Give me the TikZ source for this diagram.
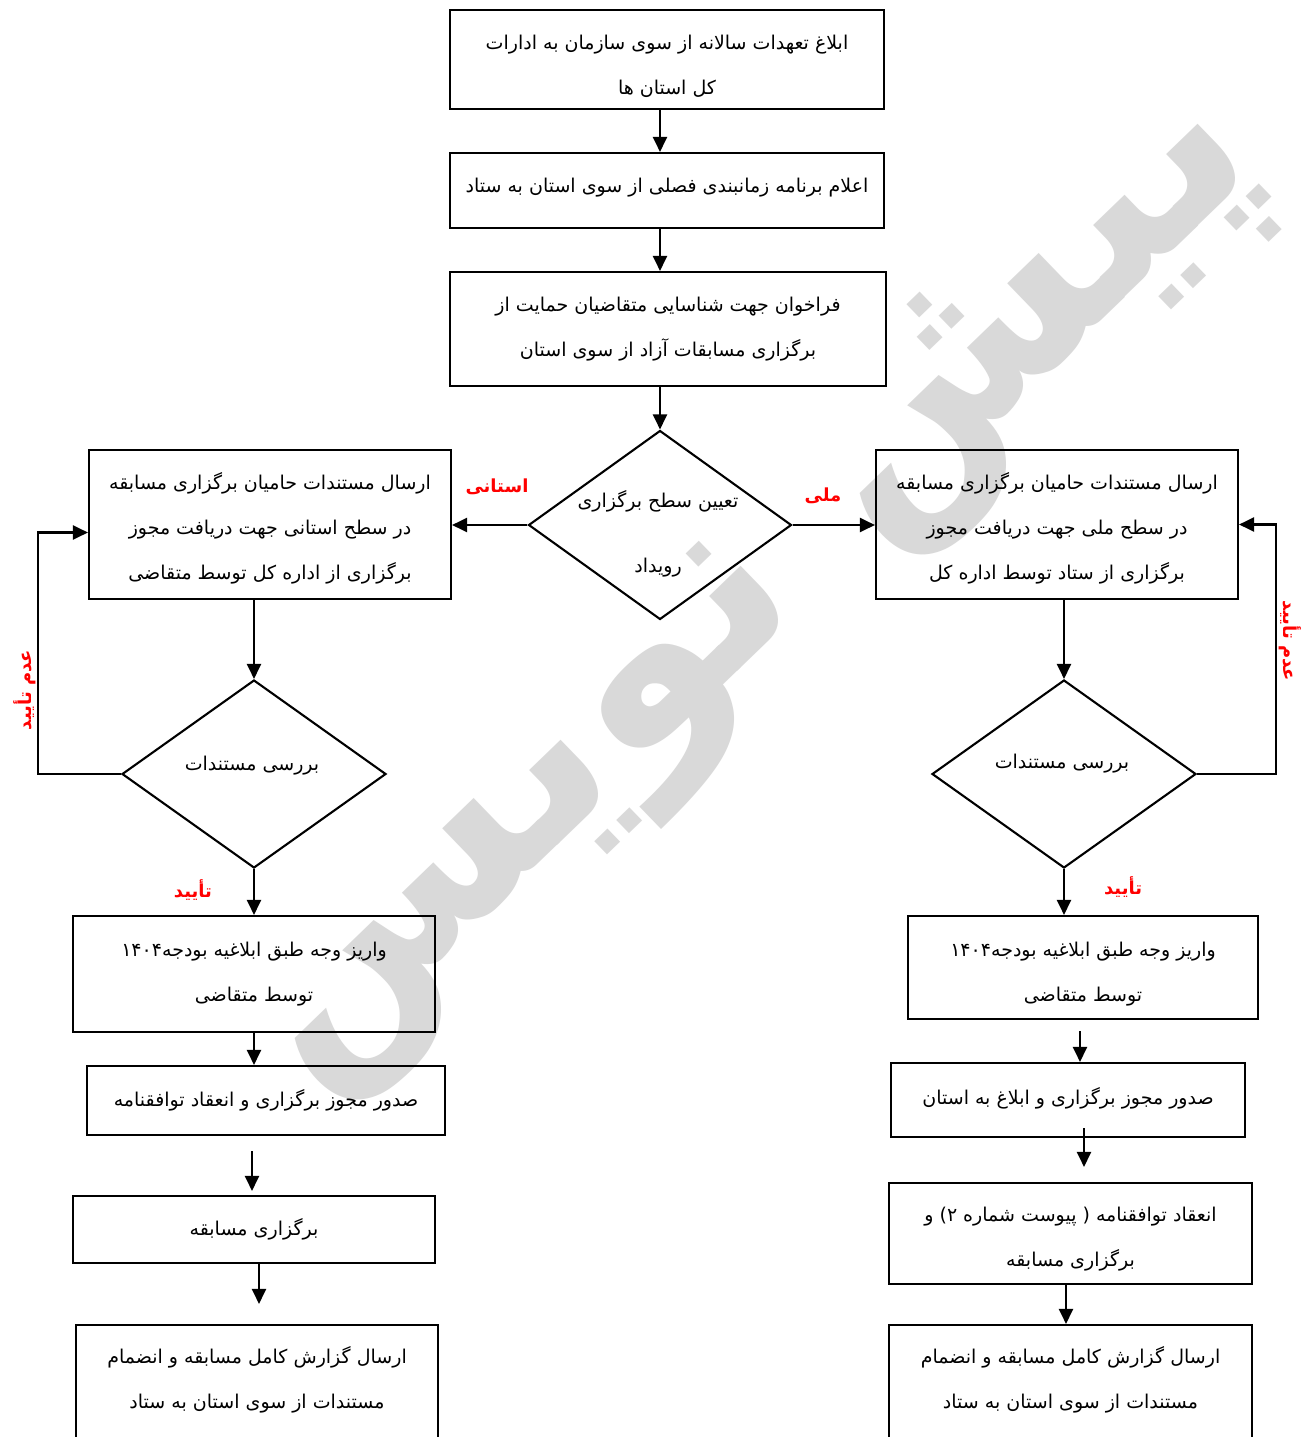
\documentclass[tikz,border=0pt]{standalone}
\usepackage{fontspec}
\usetikzlibrary{shapes.geometric,arrows.meta}
\TeXXeTstate=1
\newfontfamily\farsi[Script=Arabic]{DejaVu Sans}
\newcommand{\fa}[2][0pt]{\raisebox{-#1}[\height][\depth]{\beginR #2\endR}}
\begin{document}
\begin{tikzpicture}[x=1pt,y=-1pt,
  box/.style={draw, line width=2.1pt, align=center, inner sep=0pt, font=\farsi\fontsize{19}{45}\selectfont},
  txt/.style={align=center, inner sep=0pt, font=\farsi\fontsize{19}{45}\selectfont},
  dia/.style={draw, diamond, line width=2.1pt, inner sep=0pt},
  arr/.style={line width=2.1pt, -{Triangle[length=15pt,width=14pt]}},
  lbl/.style={text=red, font=\farsi\bfseries\fontsize{18}{20}\selectfont, inner sep=0pt},
  wmark/.style={text=black!15, font=\farsi\bfseries\fontsize{250}{250}\selectfont, inner sep=0pt},
]
\useasboundingbox (0,0) rectangle (1304,1437);
\clip (0,0) rectangle (1304,1437);
\fill[white] (0,0) rectangle (1304,1437);
% watermark
\node[wmark, rotate=44] (wm) at (755,595) {\fa{پیش نویس}};
% top chain
\node[box, minimum width=434, minimum height=99] (b1) at (667,59.5) {\fa[7pt]{ابلاغ تعهدات سالانه از سوی سازمان به ادارات}\\\fa[7pt]{کل استان ها}};
\node[box, minimum width=434, minimum height=75] (b2) at (667,190.5) {\fa[-3pt]{اعلام برنامه زمانبندی فصلی از سوی استان به ستاد}};
\node[box, minimum width=436, minimum height=114] (b3) at (668,329) {\fa{فراخوان جهت شناسایی متقاضیان حمایت از}\\\fa{برگزاری مسابقات آزاد از سوی استان}};
\node[dia, minimum width=263, minimum height=189] (d1) at (660,525) {};
\node[txt, font=\farsi\fontsize{19}{65}\selectfont] (d1t) at (658,534) {\fa{تعیین سطح برگزاری}\\\fa{رویداد}};
% level-2 boxes
\node[box, minimum width=362, minimum height=149] (L1) at (270,524.5) {\fa[4pt]{ارسال مستندات حامیان برگزاری مسابقه}\\\fa[4pt]{در سطح استانی جهت دریافت مجوز}\\\fa[4pt]{برگزاری از اداره کل توسط متقاضی}};
\node[box, minimum width=362, minimum height=149] (R1) at (1057,524.5) {\fa[4pt]{ارسال مستندات حامیان برگزاری مسابقه}\\\fa[4pt]{در سطح ملی جهت دریافت مجوز}\\\fa[4pt]{برگزاری از ستاد توسط اداره کل}};
% review diamonds
\node[dia, minimum width=264, minimum height=188] (Ld) at (254,774) {};
\node[txt] (Ldt) at (252,766) {\fa{بررسی مستندات}};
\node[dia, minimum width=264, minimum height=188] (Rd) at (1064,774) {};
\node[txt] (Rdt) at (1062,764) {\fa{بررسی مستندات}};
% left column
\node[box, minimum width=362, minimum height=116] (L2) at (254,974) {\fa{واریز وجه طبق ابلاغیه بودجه\beginL۱۴۰۴\endL}\\\fa{توسط متقاضی}};
\node[box, minimum width=358, minimum height=69] (L3) at (266,1100.5) {\fa{صدور مجوز برگزاری و انعقاد توافقنامه}};
\node[box, minimum width=362, minimum height=67] (L4) at (254,1229.5) {\fa{برگزاری مسابقه}};
\node[box, minimum width=362, minimum height=140] (L5) at (257,1395) {};
\node[txt] (L5t) at (257,1380) {\fa{ارسال گزارش کامل مسابقه و انضمام}\\\fa{مستندات از سوی استان به ستاد}};
% right column
\node[box, minimum width=350, minimum height=103] (R2) at (1083,967.5) {\fa[7pt]{واریز وجه طبق ابلاغیه بودجه\beginL۱۴۰۴\endL}\\\fa[7pt]{توسط متقاضی}};
\node[box, minimum width=354, minimum height=74] (R3) at (1068,1100) {\fa[-2pt]{صدور مجوز برگزاری و ابلاغ به استان}};
\node[box, minimum width=363, minimum height=101] (R4) at (1070.5,1233.5) {\fa[6pt]{انعقاد توافقنامه ( پیوست شماره ۲) و}\\\fa[6pt]{برگزاری مسابقه}};
\node[box, minimum width=363, minimum height=140] (R5) at (1070.5,1395) {};
\node[txt] (R5t) at (1070.5,1380) {\fa{ارسال گزارش کامل مسابقه و انضمام}\\\fa{مستندات از سوی استان به ستاد}};
% labels
\node[lbl] (lst) at (497,487) {\fa{استانی}};
\node[lbl] (lml) at (823,496) {\fa{ملی}};
\node[lbl, rotate=90] (lrej) at (25,690) {\fa{عدم تأیید}};
\node[lbl, rotate=-90] (rrej) at (1290,641) {\fa{عدم تأیید}};
\node[lbl] (lok) at (193,890) {\fa{تأیید}};
\node[lbl] (rok) at (1123,887) {\fa{تأیید}};
% connectors
\draw[arr] (b1.south -| d1.north) -- (b2.north -| d1.north);
\draw[arr] (b2.south -| d1.north) -- (b3.north -| d1.north);
\draw[arr] (b3.south -| d1.north) -- (d1.north);
\draw[arr] (d1.west) -- (L1.east |- d1.west);
\draw[arr] (d1.east) -- (R1.west |- d1.east);
\draw[arr] (L1.south -| Ld.north) -- (Ld.north);
\draw[arr] (R1.south -| Rd.north) -- (Rd.north);
\draw[arr] (Ld.west) -- ++(-83,0) |- ([yshift=-8pt]L1.west);
\draw[arr] (Rd.east) -- ++(79,0) |- (R1.east);
\draw[arr] (Ld.south) -- (L2.north -| Ld.south);
\draw[arr] (Rd.south) -- (R2.north -| Rd.south);
\draw[arr] (L2.south -| Ld.south) -- (L3.north -| Ld.south);
\draw[arr, shorten <=15pt, shorten >=4pt] ([xshift=-2pt]L3.south -| Ld.south) -- ([xshift=-2pt]L4.north -| Ld.south);
\draw[arr, shorten >=20pt] ([xshift=5pt]L4.south) -- ([xshift=5pt]L4.south |- L5.north);
\draw[arr, shorten <=11pt] ([xshift=-3pt]R2.south) -- ([xshift=-3pt]R2.south |- R3.north);
\draw[arr, shorten <=-10pt, shorten >=15pt] ([xshift=16pt]R3.south) -- ([xshift=16pt]R3.south |- R4.north);
\draw[arr] ([xshift=-4.5pt]R4.south) -- ([xshift=-4.5pt]R4.south |- R5.north);
\end{tikzpicture}
\end{document}
